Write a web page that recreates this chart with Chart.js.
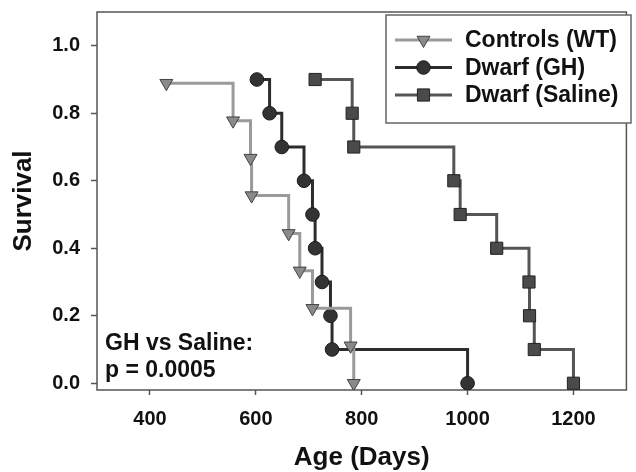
<!DOCTYPE html>
<html>
<head>
<meta charset="utf-8">
<script src="https://cdn.jsdelivr.net/npm/chart.js"></script>
<style>
  html, body { margin: 0; padding: 0; background: #fff; }
  #wrap { width: 636px; height: 472px; position: relative; }
</style>
</head>
<body>
<div id="wrap"><canvas id="c" width="636" height="472"></canvas></div>
<script>
// ---------------- data ----------------
const seriesLabels = ['Controls (WT)', 'Dwarf (GH)', 'Dwarf (Saline)'];

const controlsDays     = [431, 557, 590, 592, 662, 683, 707, 779, 785];
const controlsSurvival = [0.889, 0.778, 0.667, 0.556, 0.444, 0.333, 0.222, 0.111, 0.0];

const ghDays     = [602, 626, 649, 691, 707, 712, 725, 741, 744, 1000];
const ghSurvival = [0.9, 0.8, 0.7, 0.6, 0.5, 0.4, 0.3, 0.2, 0.1, 0.0];

const salineDays     = [712, 782, 785, 974, 986, 1055, 1116, 1117, 1126, 1200];
const salineSurvival = [0.9, 0.8, 0.7, 0.6, 0.5, 0.4, 0.3, 0.2, 0.1, 0.0];

const xTickValues = [400, 600, 800, 1000, 1200];
const yTickValues = [0.0, 0.2, 0.4, 0.6, 0.8, 1.0];

const xTitle = 'Age (Days)';
const yTitle = 'Survival';
const annotationLines = ['GH vs Saline:', 'p = 0.0005'];

// ---------------- styling ----------------
const FONT = "'Liberation Sans', Arial, Helvetica, sans-serif";
const TEXT = '#111111';
const AXIS = '#555555';

function toPoints(xs, ys) { return xs.map((x, i) => ({ x: x, y: ys[i] })); }

const datasets = [
  {
    label: seriesLabels[0],
    data: toPoints(controlsDays, controlsSurvival),
    stepped: 'before',
    borderColor: '#9a9a9a',
    borderWidth: 3,
    pointStyle: 'triangle',
    pointRotation: 180,
    pointRadius: 7.5,
    pointBackgroundColor: '#8a8a8a',
    pointBorderColor: '#444444',
    pointBorderWidth: 1,
    fill: false
  },
  {
    label: seriesLabels[1],
    data: toPoints(ghDays, ghSurvival),
    stepped: 'before',
    borderColor: '#2c2c2c',
    borderWidth: 3,
    pointStyle: 'circle',
    pointRadius: 6.8,
    pointBackgroundColor: '#333333',
    pointBorderColor: '#1a1a1a',
    pointBorderWidth: 1,
    fill: false
  },
  {
    label: seriesLabels[2],
    data: toPoints(salineDays, salineSurvival),
    stepped: 'before',
    borderColor: '#555555',
    borderWidth: 3,
    pointStyle: 'rect',
    pointRadius: 8.6,
    pointBackgroundColor: '#4a4a4a',
    pointBorderColor: '#222222',
    pointBorderWidth: 1,
    fill: false
  }
];

// draw a marker (legend) with library helper if present
function drawMarker(ctx, ds, x, y) {
  ctx.save();
  ctx.fillStyle = ds.pointBackgroundColor;
  ctx.strokeStyle = ds.pointBorderColor;
  ctx.lineWidth = ds.pointBorderWidth;
  if (Chart.helpers && Chart.helpers.drawPoint) {
    Chart.helpers.drawPoint(ctx, {
      pointStyle: ds.pointStyle,
      rotation: ds.pointRotation || 0,
      radius: ds.pointRadius,
      borderWidth: ds.pointBorderWidth
    }, x, y);
  } else {
    ctx.beginPath();
    ctx.arc(x, y, ds.pointRadius, 0, Math.PI * 2);
    ctx.fill(); ctx.stroke();
  }
  ctx.restore();
}

const framePlugin = {
  id: 'frame',
  beforeDatasetsDraw(chart) {
    const a = chart.chartArea, ctx = chart.ctx;
    ctx.save();
    ctx.strokeStyle = AXIS;
    ctx.lineWidth = 1.5;
    ctx.strokeRect(a.left, a.top, a.right - a.left, a.bottom - a.top);
    ctx.restore();
  }
};

const legendPlugin = {
  id: 'boxLegend',
  afterDatasetsDraw(chart) {
    const a = chart.chartArea, ctx = chart.ctx;
    const bx = a.left + 289, by = a.top + 3, bw = 245, bh = 108;
    ctx.save();
    ctx.fillStyle = '#ffffff';
    ctx.fillRect(bx, by, bw, bh);
    ctx.strokeStyle = '#666666';
    ctx.lineWidth = 1.5;
    ctx.strokeRect(bx, by, bw, bh);
    ctx.font = 'bold 23px ' + FONT;
    ctx.textBaseline = 'middle';
    ctx.textAlign = 'left';
    chart.data.datasets.forEach((ds, i) => {
      const ry = by + 25 + i * 27.5;
      ctx.strokeStyle = ds.borderColor;
      ctx.lineWidth = ds.borderWidth;
      ctx.beginPath();
      ctx.moveTo(bx + 9, ry);
      ctx.lineTo(bx + 66, ry);
      ctx.stroke();
      drawMarker(ctx, ds, bx + 37.5, ry);
      ctx.fillStyle = TEXT;
      ctx.fillText(ds.label, bx + 79, ry + 1);
    });
    ctx.restore();
  }
};

const annotationPlugin = {
  id: 'annotation',
  afterDatasetsDraw(chart) {
    const a = chart.chartArea, ctx = chart.ctx;
    ctx.save();
    ctx.font = 'bold 23px ' + FONT;
    ctx.fillStyle = TEXT;
    ctx.textAlign = 'left';
    ctx.textBaseline = 'alphabetic';
    annotationLines.forEach((t, i) => {
      ctx.fillText(t, a.left + 8, a.bottom - 40 + i * 27);
    });
    ctx.restore();
  }
};

function noEdgePadding(s) {
  s.paddingTop = 0; s.paddingBottom = 0; s.paddingLeft = 0; s.paddingRight = 0;
}

new Chart(document.getElementById('c'), {
  type: 'line',
  data: { datasets: datasets },
  options: {
    responsive: false,
    animation: false,
    devicePixelRatio: 1,
    layout: { padding: { top: 12, right: 0, left: 0, bottom: 0 } },
    plugins: { legend: { display: false }, tooltip: { enabled: false } },
    scales: {
      x: {
        type: 'linear',
        min: 300,
        max: 1300,
        afterBuildTicks: (s) => { s.ticks = xTickValues.map(v => ({ value: v })); },
        afterFit: (s) => { s.height = 82; noEdgePadding(s); },
        grid: { display: true, drawOnChartArea: false, drawTicks: true, tickLength: 5, tickColor: AXIS, tickWidth: 1.5 },
        border: { display: false },
        ticks: {
          font: { family: FONT, size: 20, weight: 'bold' },
          color: TEXT,
          padding: 12,
          maxRotation: 0,
          autoSkip: false,
          callback: (v) => String(v)
        },
        title: {
          display: true,
          text: xTitle,
          color: TEXT,
          font: { family: FONT, size: 26, weight: 'bold' },
          padding: { top: 0, bottom: -1 }
        }
      },
      y: {
        type: 'linear',
        min: -0.02,
        max: 1.1,
        afterBuildTicks: (s) => { s.ticks = yTickValues.map(v => ({ value: v })); },
        afterFit: (s) => { s.width = 97; noEdgePadding(s); },
        grid: { display: true, drawOnChartArea: false, drawTicks: true, tickLength: 6, tickColor: AXIS, tickWidth: 1.5 },
        border: { display: false },
        ticks: {
          font: { family: FONT, size: 20, weight: 'bold' },
          color: TEXT,
          padding: 11,
          autoSkip: false,
          callback: (v) => Number(v).toFixed(1)
        },
        title: {
          display: true,
          text: yTitle,
          color: TEXT,
          font: { family: FONT, size: 26, weight: 'bold' },
          padding: { top: 8, bottom: 0 }
        }
      }
    }
  },
  plugins: [framePlugin, legendPlugin, annotationPlugin]
});
</script>
</body>
</html>
